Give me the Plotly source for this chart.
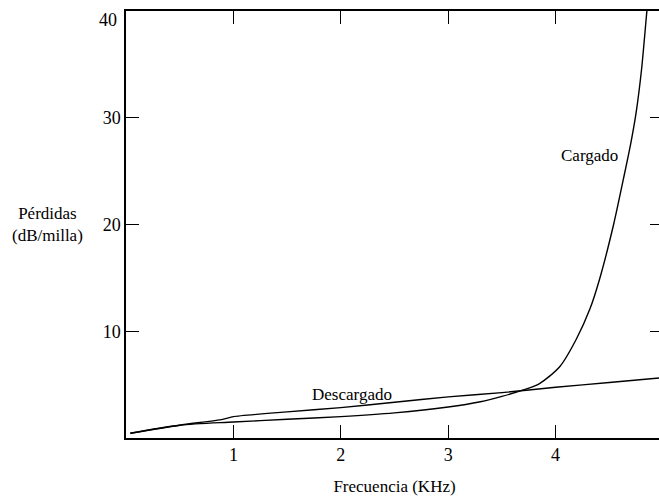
import plotly.graph_objects as go

# Data
x_descargado = [0.04, 0.5, 0.9, 1.0, 1.5, 2.0, 2.5, 3.0, 3.5, 4.0, 4.5, 5.0]
y_descargado = [0.45, 1.2, 1.75, 2.0, 2.45, 2.85, 3.35, 3.85, 4.25, 4.75, 5.2, 5.65]

x_cargado = [0.04, 0.5, 1.0, 1.5, 2.0, 2.5, 3.0, 3.3, 3.5, 3.7, 3.85, 4.04, 4.19,
             4.32, 4.41, 4.54, 4.63, 4.70, 4.75, 4.80, 4.85, 4.87]
y_cargado = [0.45, 1.2, 1.5, 1.75, 2.0, 2.35, 2.9, 3.4, 3.9, 4.5, 5.1, 6.7, 9.2,
             12.1, 14.9, 20.0, 24.2, 27.6, 30.5, 34.5, 40.0, 42.0]

x_ticks = [1, 2, 3, 4, 5]
y_ticks = [10, 20, 30, 40]

FONT = "Liberation Serif"
# Figure placed at the page origin; it runs slightly past the right edge of the
# 659px window, like the reference (whose right axis and "5" label are cut off).
W, H = 667, 497
L, T, B, R = 126, 11, 59, 4
PW, PH = W - L - R, H - T - B

fig = go.Figure()
fig.add_trace(go.Scatter(x=x_descargado, y=y_descargado, mode="lines",
                         line=dict(color="black", width=1.4, shape="spline", smoothing=0.6),
                         showlegend=False, hoverinfo="skip"))
fig.add_trace(go.Scatter(x=x_cargado, y=y_cargado, mode="lines",
                         line=dict(color="black", width=1.4, shape="spline", smoothing=0.8),
                         showlegend=False, hoverinfo="skip"))

# top tick label is drawn just below its tick (as in the reference), so keep it as annotation
y_ticktext = ["" if v == max(y_ticks) else str(v) for v in y_ticks]

fig.update_layout(
    width=W, height=H,
    margin=dict(l=L, r=R, t=T, b=B, autoexpand=False),
    paper_bgcolor="white", plot_bgcolor="white",
    font=dict(family=FONT, size=18, color="black"),
    xaxis=dict(range=[0, 5], tickvals=x_ticks, ticktext=[str(v) for v in x_ticks],
               showgrid=False, zeroline=False, showline=True, linecolor="black",
               linewidth=1.5, mirror="ticks", ticks="inside", ticklen=13,
               tickcolor="black", tickwidth=1,
               title=dict(text="Frecuencia (KHz)", standoff=16,
                          font=dict(family=FONT, size=17))),
    yaxis=dict(range=[0, 40], tickvals=y_ticks, ticktext=y_ticktext,
               showgrid=False, zeroline=False, showline=True, linecolor="black",
               linewidth=1.5, mirror="ticks", ticks="inside", ticklen=13,
               tickcolor="black", tickwidth=1),
    annotations=[
        dict(text=str(max(y_ticks)), xref="paper", yref="y", x=0, y=max(y_ticks),
             xanchor="right", yanchor="top", xshift=-7, yshift=3, showarrow=False,
             font=dict(family=FONT, size=18)),
        dict(text="Pérdidas<br>(dB/milla)", xref="paper", yref="paper",
             x=(48 - L) / PW, y=(T + PH - 224) / PH, xanchor="center", yanchor="middle",
             showarrow=False, font=dict(family=FONT, size=17), align="center"),
        dict(text="Cargado", xref="x", yref="y", x=(589 - 126) / 107.4,
             y=(438 - 155) / 10.675, showarrow=False, font=dict(family=FONT, size=17)),
        dict(text="Descargado", xref="x", yref="y", x=(352 - 126) / 107.4,
             y=(438 - 394) / 10.675, showarrow=False, font=dict(family=FONT, size=17)),
    ],
)

fig.write_html(
    "out.html",
    config={"displayModeBar": False},
    post_script="document.body.style.margin='0';document.body.style.overflow='hidden';"
                "document.documentElement.style.overflow='hidden';",
)
